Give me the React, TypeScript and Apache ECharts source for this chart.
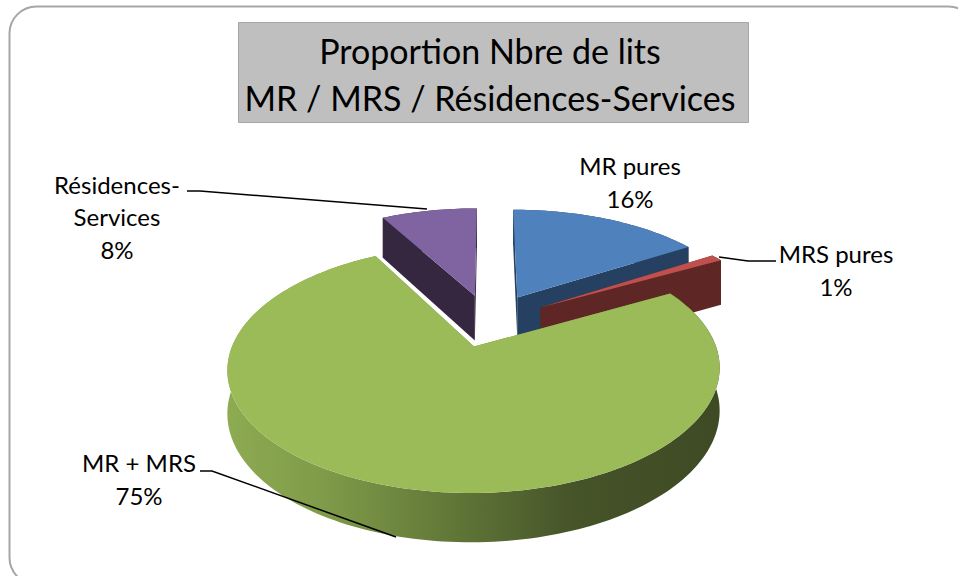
import React, { useEffect, useRef } from "react";
import * as echarts from "echarts";

const categories = ["MR pures", "MRS pures", "MR + MRS", "Résidences-\nServices"];
const values = [16, 1, 75, 8];
const topColors = ["#4F81BD", "#C0504D", "#9BBB59", "#8064A2"];
const sideColors = ["#264061", "#5E2624", "#6F8A3F", "#35273F"];
const explosions = [0.262, 0.263, 0.222, 0.255];
const depthScale = [1.0, 1.15, 0.97, 1.1];
const drawOrder = [1, 2, 3, 0]; // painter's order per slice index (back = low)
const labelPos = [
  [630, 182],
  [836, 270],
  [139, 479],
  [117, 216.5],
];
const leaders = [
  null,
  [[776, 261], [748, 261], [719, 257]],
  [[200, 471], [212, 471], [396, 537]],
  [[187, 191], [200, 191], [427, 209]],
];

const CX = 489;
const CY = 322;
const A = 233;
const B = 111;
const K = 0.175;
const DEPTH = 42;
const total = values.reduce((s, v) => s + v, 0);

function project(u: number, v: number, drop: number) {
  const w = 1 - K * v;
  const x = CX + (A * u) / w;
  const y = CY + (B * v) / w + (drop ? (DEPTH * drop) / Math.pow(w, 0.8) : 0);
  return [x, y];
}

function sliceGeom(i: number) {
  const before = values.slice(0, i).reduce((s, v) => s + v, 0);
  const a0 = (before / total) * Math.PI * 2;
  const a1 = ((before + values[i]) / total) * Math.PI * 2;
  const mid = (a0 + a1) / 2;
  const d = explosions[i];
  const au = d * Math.sin(mid);
  const av = -d * Math.cos(mid);
  const steps = Math.max(4, Math.ceil((a1 - a0) * 40));
  const arc = (drop: number) => {
    const pts: number[][] = [];
    for (let s = 0; s <= steps; s++) {
      const t = a0 + ((a1 - a0) * s) / steps;
      pts.push(project(au + Math.sin(t), av - Math.cos(t), drop));
    }
    return pts;
  };
  return { a0, a1, au, av, arc };
}

function renderItem(_params: any, api: any) {
  const i = api.value(0);
  const g = sliceGeom(i);
  const topArc = g.arc(0);
  const botArc = g.arc(depthScale[i]);
  const apexT = project(g.au, g.av, 0);
  const apexB = project(g.au, g.av, depthScale[i]);
  const z = drawOrder[i] * 10;
  const children: any[] = [];
  const lastT = topArc[topArc.length - 1];
  const lastB = botArc[botArc.length - 1];
  const side = sideColors[i];
  // cut faces
  children.push({
    type: "polygon",
    z2: z,
    shape: { points: [apexT, topArc[0], botArc[0], apexB] },
    style: { fill: side },
  });
  children.push({
    type: "polygon",
    z2: z,
    shape: { points: [apexT, lastT, lastB, apexB] },
    style: { fill: side },
  });
  // outer wall
  const wallFill =
    i === 2
      ? {
          type: "linear",
          x: 228,
          y: 0,
          x2: 720,
          y2: 0,
          global: true,
          colorStops: [
            { offset: 0, color: "#8DAB51" },
            { offset: 0.2, color: "#7F9A49" },
            { offset: 0.45, color: "#617838" },
            { offset: 0.7, color: "#465429" },
            { offset: 1, color: "#3E4A24" },
          ],
        }
      : side;
  children.push({
    type: "polygon",
    z2: z + 1,
    shape: { points: [...topArc, ...botArc.slice().reverse()] },
    style: { fill: wallFill },
  });
  // top face
  children.push({
    type: "polygon",
    z2: z + 2,
    shape: { points: [apexT, ...topArc] },
    style: { fill: topColors[i] },
  });
  return { type: "group", children };
}

export default function App() {
  const ref = useRef<HTMLDivElement>(null);
  useEffect(() => {
    document.body.style.margin = "0";
    const chart = echarts.init(ref.current!, null, { renderer: "svg" });
    const font = "Lato, 'Open Sans', sans-serif";
    const graphics: any[] = [
      {
        type: "rect",
        z: 0,
        shape: { x: 9.5, y: 6.5, width: 966, height: 578, r: 27 },
        style: { fill: "#FFFFFF", stroke: "#A6A6A6", lineWidth: 2 },
      },
      {
        type: "rect",
        z: 1,
        shape: { x: 238.5, y: 22.5, width: 510, height: 100 },
        style: { fill: "#BFBFBF", stroke: "#A6A6A6", lineWidth: 1 },
      },
    ];
    leaders.forEach((pts) => {
      if (!pts) return;
      graphics.push({
        type: "polyline",
        z: 10,
        shape: { points: pts },
        style: { fill: "none", stroke: "#000000", lineWidth: 1.5 },
      });
    });
    categories.forEach((c, i) => {
      graphics.push({
        type: "text",
        z: 10,
        x: labelPos[i][0],
        y: labelPos[i][1],
        style: {
          text: `${c}\n${Math.round((values[i] / total) * 100)}%`,
          font: `24px ${font}`,
          fill: "#000000",
          align: "center",
          verticalAlign: "middle",
          lineHeight: 32.5,
        },
      });
    });
    chart.setOption({
      animation: false,
      title: {
        text: "Proportion Nbre de lits\nMR / MRS / Résidences-Services",
        left: 485,
        top: 22,
        textAlign: "center",
        textStyle: {
          fontFamily: font,
          fontSize: 34,
          fontWeight: "normal",
          color: "#000000",
          lineHeight: 47,
        },
        z: 5,
      },
      graphic: graphics,
      series: [
        {
          type: "custom",
          coordinateSystem: "none",
          renderItem,
          silent: true,
          z: 3,
          data: values.map((v, i) => [i, v]),
        },
      ],
    });
    return () => chart.dispose();
  }, []);
  return <div ref={ref} style={{ position: "absolute", left: 0, top: 0, width: 958, height: 576 }} />;
}
